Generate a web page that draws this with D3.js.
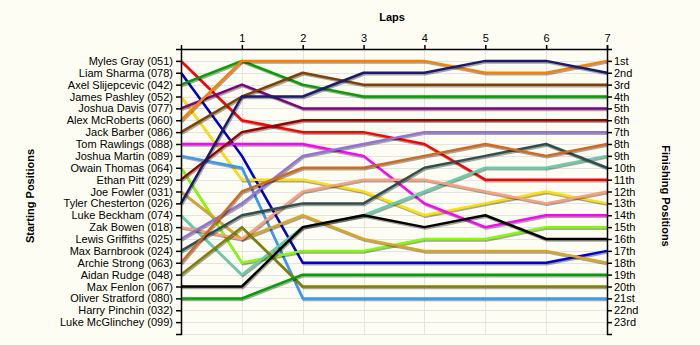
<!DOCTYPE html>
<html>
<head>
<meta charset="utf-8">
<script src="https://d3js.org/d3.v7.min.js"></script>
<style>
  body { margin: 0; background: #fdfdf3; }
  text { font-family: "Liberation Sans", Arial, sans-serif; }
</style>
</head>
<body>
<script>
// lap chart: starting grid on the left, finishing order on the right
const laps = [0, 1, 2, 3, 4, 5, 6, 7];
const lapLabels = ["", "1", "2", "3", "4", "5", "6", "7"];

const startNames = [
  "Myles Gray (051)", "Liam Sharma (078)", "Axel Slijepcevic (042)",
  "James Pashley (052)", "Joshua Davis (077)", "Alex McRoberts (060)",
  "Jack Barber (086)", "Tom Rawlings (088)", "Joshua Martin (089)",
  "Owain Thomas (064)", "Ethan Pitt (029)", "Joe Fowler (031)",
  "Tyler Chesterton (026)", "Luke Beckham (074)", "Zak Bowen (018)",
  "Lewis Griffiths (025)", "Max Barnbrook (024)", "Archie Strong (063)",
  "Aidan Rudge (048)", "Max Fenlon (067)", "Oliver Stratford (080)",
  "Harry Pinchin (032)", "Luke McGlinchey (099)"
];

const finishLabels = [
  "1st", "2nd", "3rd", "4th", "5th", "6th", "7th", "8th", "9th", "10th",
  "11th", "12th", "13th", "14th", "15th", "16th", "17th", "18th", "19th",
  "20th", "21st", "22nd", "23rd"
];

// position at lap 0..7, one array per driver (start order)
const mylesGray       = [1, 6, 7, 7, 8, 11, 11, 11];
const liamSharma      = [2, 9, 18, 18, 18, 18, 18, 17];
const axelSlijepcevic = [3, 1, 3, 4, 4, 4, 4, 4];
const jamesPashley    = [4, 11, 11, 12, 14, 13, 12, 13];
const joshuaDavis     = [5, 3, 5, 5, 5, 5, 5, 5];
const alexMcRoberts   = [6, 1, 1, 1, 1, 2, 2, 1];
const jackBarber      = [7, 4, 2, 3, 3, 3, 3, 3];
const tomRawlings     = [8, 8, 8, 9, 13, 15, 14, 14];
const joshuaMartin    = [9, 10, 21, 21, 21, 21, 21, 21];
const owainThomas     = [10, 18, 17, 17, 16, 16, 15, 15];
const ethanPitt       = [11, 7, 6, 6, 6, 6, 6, 6];
const joeFowler       = [12, 16, 14, 16, 17, 17, 17, 18];
const tylerChesterton = [13, 4, 4, 2, 2, 1, 1, 2];
const lukeBeckham     = [14, 19, 15, 14, 12, 10, 10, 9];
const zakBowen        = [15, 16, 12, 11, 11, 12, 13, 12];
const lewisGriffiths  = [16, 13, 9, 8, 7, 7, 7, 7];
const maxBarnbrook    = [17, 14, 13, 13, 10, 9, 8, 10];
const archieStrong    = [18, 12, 10, 10, 9, 8, 9, 8];
const aidanRudge      = [19, 15, 20, 20, 20, 20, 20, 20];
const maxFenlon       = [20, 20, 15, 14, 15, 14, 16, 16];
const oliverStratford = [21, 21, 19, 19, 19, 19, 19, 19];

const series = [
  mylesGray, liamSharma, axelSlijepcevic, jamesPashley, joshuaDavis,
  alexMcRoberts, jackBarber, tomRawlings, joshuaMartin, owainThomas,
  ethanPitt, joeFowler, tylerChesterton, lukeBeckham, zakBowen,
  lewisGriffiths, maxBarnbrook, archieStrong, aidanRudge, maxFenlon,
  oliverStratford
];

const colors = [
  "#ff0000", "#0000cc", "#00a000", "#ffe000", "#800080",
  "#ff8000", "#804000", "#ff00ff", "#3399ff", "#80ff00",
  "#990000", "#daa520", "#1a1a70", "#66cdaa", "#ffa07a",
  "#9370db", "#2f4f4f", "#d2691e", "#808000", "#000000",
  "#00a000"
];

const width = 700;
const height = 345;
const plotLeft = 181, plotRight = 607, plotTop = 49, plotBottom = 334;

const x = d3.scaleLinear().domain([0, 7]).range([plotLeft, plotRight]);
const y = d3.scaleLinear().domain([0, 24]).range([plotTop, plotBottom]);

const svg = d3.select("body").append("svg")
  .attr("width", width).attr("height", height);

svg.append("rect").attr("width", width).attr("height", height).attr("fill", "#fdfdf3");

// grid
const grid = svg.append("g").attr("stroke", "#e4e4e4").attr("stroke-width", 1);
grid.selectAll("line.h").data(d3.range(1, 25)).join("line")
  .attr("x1", plotLeft).attr("x2", plotRight)
  .attr("y1", d => Math.round(y(d)) + 0.5).attr("y2", d => Math.round(y(d)) + 0.5);
grid.selectAll("line.v").data(laps.slice(1, 7)).join("line")
  .attr("y1", plotTop).attr("y2", plotBottom)
  .attr("x1", d => Math.round(x(d)) + 0.5).attr("x2", d => Math.round(x(d)) + 0.5);

// lines, each with a soft drop shadow
const line = d3.line().x((d, i) => x(laps[i])).y(d => y(d));
const lines = svg.append("g").attr("fill", "none").attr("stroke-linejoin", "round");
series.forEach(function (s, i) {
  lines.append("path").attr("d", line(s))
    .attr("stroke", "rgba(0,0,0,0.35)").attr("stroke-width", 2.5)
    .attr("transform", "translate(1,1.5)");
  lines.append("path").attr("d", line(s))
    .attr("stroke", colors[i]).attr("stroke-width", 2.5);
});

// axes
const rows = d3.range(1, 24);

const topAxis = svg.append("g")
  .attr("transform", `translate(0,${plotTop})`)
  .call(d3.axisTop(x).tickValues(laps.slice(1)).tickSize(4).tickSizeOuter(4)
    .tickFormat((d) => lapLabels[d]));

const leftAxis = svg.append("g")
  .attr("transform", `translate(${plotLeft},0)`)
  .call(d3.axisLeft(y).tickValues(rows).tickSize(5).tickSizeOuter(5)
    .tickFormat(d => startNames[d - 1]));

const rightAxis = svg.append("g")
  .attr("transform", `translate(${plotRight},0)`)
  .call(d3.axisRight(y).tickValues(rows).tickSize(5).tickSizeOuter(5)
    .tickFormat(d => finishLabels[d - 1]));

[topAxis, leftAxis, rightAxis].forEach(function (a) {
  a.selectAll("path, line").attr("stroke", "#000").attr("stroke-width", 1.5);
  a.selectAll("text").attr("fill", "#000").style("font-size", "11px")
    .style("font-family", "'Liberation Sans', Arial, sans-serif");
});
leftAxis.selectAll("text").attr("x", -8);
rightAxis.selectAll("text").attr("x", 7);

// titles
svg.append("text").attr("x", 392).attr("y", 21).attr("text-anchor", "middle")
  .style("font-size", "11px").style("font-weight", "bold").text("Laps");

svg.append("text").attr("transform", "translate(34,196) rotate(-90)")
  .attr("text-anchor", "middle")
  .style("font-size", "11px").style("font-weight", "bold").text("Starting Positions");

svg.append("text").attr("transform", "translate(662,196) rotate(90)")
  .attr("text-anchor", "middle")
  .style("font-size", "11px").style("font-weight", "bold").text("Finishing Positions");
</script>
</body>
</html>
